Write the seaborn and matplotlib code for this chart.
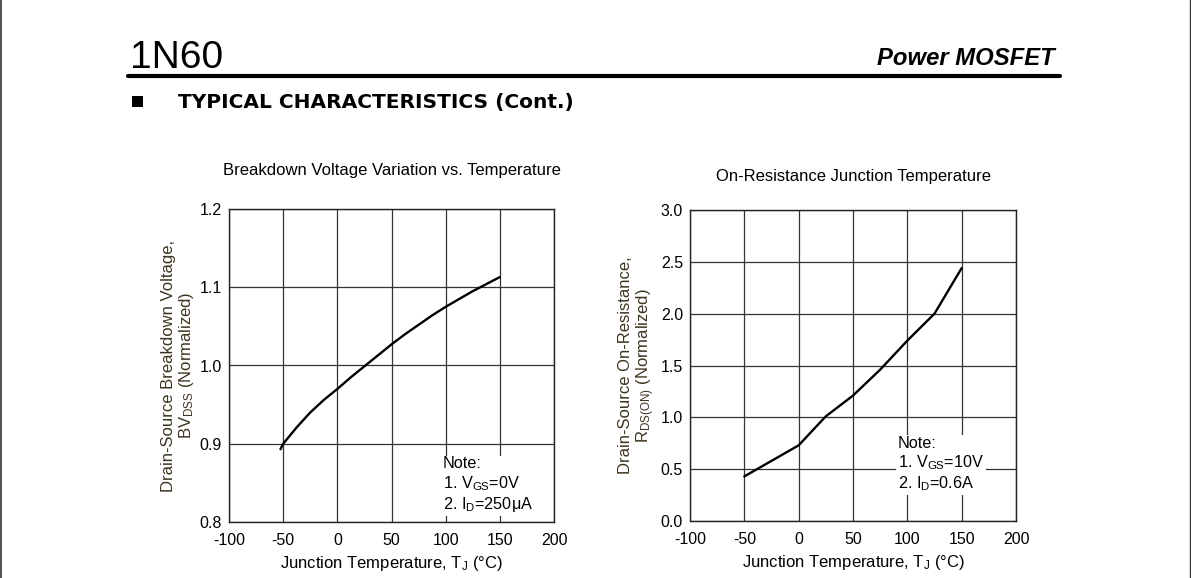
import matplotlib
matplotlib.use("Agg")
import matplotlib.pyplot as plt
from matplotlib.lines import Line2D
from matplotlib.patches import Rectangle
import seaborn as sns

# ---------------- data ----------------
bv_temp = [-52.5, -50, -37.5, -25, -12.5, 0, 12.5, 25, 37.5, 50, 62.5, 75, 87.5, 100, 112.5, 125, 137.5, 150]
bv_norm = [0.893, 0.900, 0.921, 0.940, 0.956, 0.970, 0.985, 0.999, 1.013, 1.027,
           1.040, 1.052, 1.064, 1.075, 1.085, 1.095, 1.104, 1.113]

rds_temp = [-50, 0, 25, 50, 75, 100, 125, 150]
rds_norm = [0.43, 0.73, 1.01, 1.21, 1.46, 1.74, 2.00, 2.44]

x_ticks = [-100, -50, 0, 50, 100, 150, 200]
bv_yticks = [0.8, 0.9, 1.0, 1.1, 1.2]
rds_yticks = [0.0, 0.5, 1.0, 1.5, 2.0, 2.5, 3.0]

title_left = "Breakdown Voltage Variation vs. Temperature"
title_right = "On-Resistance Junction Temperature"
xlabel = "Junction Temperature, T$_\\mathrm{J}$ (°C)"
ylabel_left = "Drain-Source Breakdown Voltage,\nBV$_\\mathrm{DSS}$ (Normalized)"
ylabel_right = "Drain-Source On-Resistance,\nR$_\\mathrm{DS(ON)}$ (Normalized)"
note_left = "Note:\n1. V$_\\mathrm{GS}$=0V\n2. I$_\\mathrm{D}$=250μA"
note_right = "Note:\n1. V$_\\mathrm{GS}$=10V\n2. I$_\\mathrm{D}$=0.6A"

# ---------------- style ----------------
sns.set_theme(style="white")
plt.rcParams['font.family'] = ['Liberation Sans', 'DejaVu Sans']
plt.rcParams['text.color'] = 'black'
plt.rcParams['axes.labelcolor'] = 'black'
plt.rcParams['axes.unicode_minus'] = False
plt.rcParams['mathtext.fontset'] = 'custom'
plt.rcParams['mathtext.rm'] = 'Liberation Sans'
plt.rcParams['mathtext.it'] = 'Liberation Sans:italic'
plt.rcParams['mathtext.bf'] = 'Liberation Sans:bold'

W, H = 1191, 578
fig = plt.figure(figsize=(W / 100, H / 100), dpi=100)
fig.patch.set_facecolor("white")

def fx(px):
    return px / W

def fy(py):
    return 1 - py / H

label_color = "#3d3420"

def setup(ax, ylim, yticks, ylab):
    ax.set_xlim(-100, 200)
    ax.set_ylim(*ylim)
    ax.set_xticks(x_ticks)
    ax.set_xticklabels([str(v) for v in x_ticks])
    ax.set_yticks(yticks)
    ax.set_yticklabels(["{:.1f}".format(v) for v in yticks])
    ax.set_axisbelow(True)
    ax.grid(True, color="#333333", linewidth=0.9)
    for s in ax.spines.values():
        s.set_color("#222222")
        s.set_linewidth(1.0)
        s.set_visible(True)
    ax.tick_params(axis="both", length=0, labelsize=11.5, colors="black")
    ax.tick_params(axis="x", pad=8)
    ax.tick_params(axis="y", pad=5)
    ax.set_xlabel(xlabel, fontsize=12, labelpad=4, color="black")
    ax.set_ylabel(ylab, fontsize=12, color=label_color, labelpad=3, linespacing=1.05)
    ax.set_facecolor("white")

# left chart
axL = fig.add_axes([fx(229), fy(522), fx(554) - fx(229), fy(209) - fy(522)])
sns.lineplot(x=bv_temp, y=bv_norm, ax=axL, color="black", linewidth=1.7, zorder=4)
setup(axL, (0.8, 1.2), bv_yticks, ylabel_left)
axL.text(97.5, 0.847, note_left, fontsize=11.7, va="center", ha="left", linespacing=1.18,
         zorder=3, bbox=dict(facecolor="white", edgecolor="none", pad=1.5))
axL.text(0.5, 1.0 + 38 / 313, title_left, transform=axL.transAxes, ha="center",
         va="center", fontsize=12)

# right chart
axR = fig.add_axes([fx(690), fy(521), fx(1016) - fx(690), fy(210) - fy(521)])
sns.lineplot(x=rds_temp, y=rds_norm, ax=axR, color="black", linewidth=1.7, zorder=4)
setup(axR, (0.0, 3.0), rds_yticks, ylabel_right)
axR.text(91.5, 0.545, note_right, fontsize=11.7, va="center", ha="left", linespacing=1.18,
         zorder=3, bbox=dict(facecolor="white", edgecolor="none", pad=1.5))
axR.text(0.5, 1.0 + 33 / 311, title_right, transform=axR.transAxes, ha="center",
         va="center", fontsize=12)

# ---------------- header ----------------
fig.text(fx(130), fy(68), "1N60", fontsize=28, ha="left", va="baseline")
fig.text(fx(1055), fy(65), "Power MOSFET", fontsize=17.2, ha="right", va="baseline",
         fontweight="bold", fontstyle="italic")
fig.add_artist(Line2D([fx(128), fx(1060)], [fy(75.5), fy(75.5)], color="black",
                      linewidth=3.0, transform=fig.transFigure))
fig.add_artist(Rectangle((fx(132), fy(107)), fx(11), 11 / H, facecolor="black",
                         edgecolor="none", transform=fig.transFigure))
fig.text(fx(178), fy(108), "TYPICAL CHARACTERISTICS (Cont.)", fontsize=14.5,
         fontweight="bold", ha="left", va="baseline", family=['DejaVu Sans'])

# page edges
fig.add_artist(Line2D([fx(0.5), fx(0.5)], [0, 1], color="#333333", linewidth=1.2,
                      transform=fig.transFigure))
fig.add_artist(Line2D([fx(1189.5), fx(1189.5)], [0, 1], color="#333333", linewidth=1.0,
                      transform=fig.transFigure))

fig.savefig("out.png", dpi=100, facecolor="white")
